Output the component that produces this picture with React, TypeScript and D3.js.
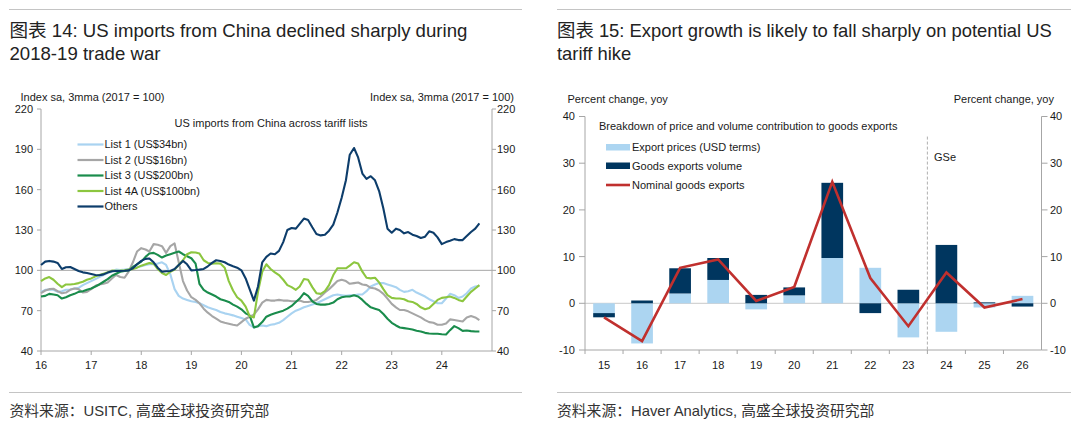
import React from 'react';
import * as d3 from 'd3';

const FONT = '"Liberation Sans", Arial, "Noto Sans CJK SC", sans-serif';

// ---------- Left chart: US imports from China across tariff lists (monthly, Jan 2016 onward) ----------
const firstMonth = new Date(2016, 0, 1);

const list1 = [
  84, 85.5, 85.8, 85.5, 84, 84.5, 85.5, 85.8, 86.5, 87, 89, 90.5, 92, 93.5, 95, 96.5, 98, 99, 100.5, 100.3,
  100.5, 101, 101.5, 102.3, 103, 104, 104.5, 104.5, 105, 106, 104, 97, 86, 81, 79, 78, 77, 76.5,
  75.5, 74, 72.5, 71.5, 70.5, 69, 68, 67.3, 66.5, 65.5, 64.5, 63.5, 59.5, 57.5, 58.5, 59, 58.5, 59.5, 60, 61,
  63, 65.5, 68, 70, 71, 72.5, 73.5, 74.5, 75.5, 77, 78.5, 80, 81.5, 82, 81.5, 81, 81.5, 81.5, 82, 82, 84.5,
  88, 89.5, 90.5, 90.5, 89.5, 88.5, 87.5, 85.5, 84, 84.5, 85.5, 83.5, 82, 80.5, 78.5, 77, 75.5, 75.5, 79,
  82.5, 81.5, 79.5, 80.5, 83, 86.5, 88, 88.5,
];

const list2 = [
  83, 85, 86, 86.3, 84.5, 83, 83.5, 85.5, 86.5, 86, 83.5, 84, 86, 88.5, 89.5, 90, 91, 94, 96.5, 95,
  94.5, 99, 106, 114, 116.5, 115.5, 114, 119.5, 119, 118, 113, 118, 120, 106, 92, 85, 80, 78, 75.5,
  71.5, 68.5, 66, 64, 62, 61, 60.3, 59.5, 59, 61.5, 64, 65.5, 67, 71, 76, 78, 77.5, 77.5, 78, 77.5, 77.5,
  77, 77, 77.5, 76.5, 76.5, 77, 78, 80.5, 83.5, 86, 89, 92, 93, 92, 90, 90.5, 91, 89.5, 89, 87, 86.5, 85,
  82.5, 79, 75, 72.5, 70.5, 70.5, 69.5, 68, 66.5, 65, 63, 61.5, 61, 59.5, 59.5, 60.5, 63.5, 63, 62.5, 62,
  65, 66, 65, 63,
];

const list3 = [
  80.5, 81, 82.5, 82, 81.5, 79, 80, 81.5, 82.5, 84, 84.5, 85.5, 86.5, 88, 89.5, 91.5, 93.5, 96, 97.5, 99,
  99.5, 100, 102.5, 104.5, 106.5, 110, 112.5, 113, 111.5, 109.5, 111, 112, 113, 114, 112, 110.5, 109, 105, 90,
  85.5, 83.5, 82, 80.5, 78.5, 77.5, 76.5, 74.5, 73, 71, 68, 66.5, 57.5, 58.5, 61.5, 65.5, 67, 68, 69, 70,
  71.5, 73.5, 76.5, 79, 83, 81, 77, 75, 74.5, 74.5, 75, 76, 78.5, 80, 80.5, 80.5, 81.5, 80.5, 78, 75, 72.5,
  71.5, 70.5, 67.5, 64, 61, 59, 57.5, 57, 56.5, 56, 55, 54.5, 53.5, 53, 52.8, 52.8, 52.5, 52.3, 55.5, 58.5,
  57, 55, 55.3, 54.8, 54.5, 54.5,
];

const list4a = [
  92, 94, 95, 93, 90, 87.5, 89.5, 89.5, 89.8, 90.5, 91.5, 93, 94, 95.5, 96.5, 97.5, 98.5, 99.8, 99.7, 99.8,
  100, 100.5, 101, 102, 103.5, 104.5, 105.5, 105, 101, 98, 96.5, 99, 100.5, 104, 107.5, 112, 113.5, 113.3, 112.5,
  107.5, 105.5, 105, 105.3, 105, 102, 92, 85, 80, 77.5, 73, 66, 65, 84, 99, 104.5, 101, 98.5, 96.5, 93,
  89, 87.5, 85.5, 88, 93.5, 93, 87.5, 83, 82.5, 84.5, 89, 96.5, 101.5, 101.5, 101.5, 103.5, 106, 105, 99, 94.5,
  94, 94.5, 91, 86, 81.5, 79.5, 79, 79, 78.5, 77, 76.5, 75, 72.5, 71, 72, 75, 78, 79.5, 80, 80.5, 79.5,
  78, 77, 80.5, 84, 86.5, 89,
];

const others = [
  104, 106.5, 107, 106.5, 105.5, 101, 102.3, 102.5, 101, 99.5, 98.5, 98, 97.3, 96.5, 96.3, 97, 98.3, 99.3, 99.5, 99.5,
  99.7, 100, 101.5, 104.5, 107, 108.5, 108.8, 106, 102, 99, 99.3, 99.5, 101, 104, 107, 104.5, 100, 100.2, 100.5,
  101, 103, 105.5, 107.5, 107, 106, 104.3, 103, 102, 100, 94, 86, 77.5, 88, 106, 110, 112.5, 112, 114.5, 121,
  130, 131.5, 131, 134.5, 138.5, 137.5, 132, 127, 126, 126.5, 129.5, 134, 143, 154, 167, 186, 191, 184, 172, 168,
  170, 167, 159, 146, 131, 128, 131, 130, 127.5, 128.5, 126.5, 125.5, 124, 125, 129, 128, 124.5, 119.5, 121, 122,
  123.2, 122.5, 122.5, 125.5, 128.5, 131, 135,
];

const leftSeriesNames = ['List 1 (US$34bn)', 'List 2 (US$16bn)', 'List 3 (US$200bn)', 'List 4A (US$100bn)', 'Others'];
const leftSeriesColors = ['#a9d3f1', '#a6a6a6', '#1a8c4c', '#8cc63f', '#0d3d6b'];
const leftYTicks = [40, 70, 100, 130, 160, 190, 220];
const leftXYears = [2016, 2017, 2018, 2019, 2020, 2021, 2022, 2023, 2024];
const leftXLabels = ['16', '17', '18', '19', '20', '21', '22', '23', '24'];

// ---------- Right chart: price and volume contribution to goods exports ----------
const rightCats = ['15', '16', '17', '18', '19', '20', '21', '22', '23', '24', '25', '26'];
const exportPrices = [-2.1, -8.6, 2.1, 5.0, -1.3, 1.7, 9.7, 7.6, -7.3, -6.1, -0.9, 1.6];
const exportVolume = [-0.9, 0.6, 5.4, 4.7, 1.8, 1.7, 16.1, -2.1, 2.9, 12.5, 0.2, -0.7];
const nominalExports = [-3.0, -8.1, 7.6, 9.4, 0.5, 3.5, 26.0, 5.4, -4.9, 6.6, -0.9, 0.9];
const rightYTicks = [-10, 0, 10, 20, 30, 40];
const forecastStartCat = '24';
const forecastLineTop = 35.7;

const AXIS = '#a6a6a6';
const TXT = '#1a1a1a';

function LeftChart() {
  const x = d3.scaleTime().domain([new Date(2016, 0, 1), new Date(2025, 0, 1)]).range([41, 492]);
  const y = d3.scaleLinear().domain([40, 220]).range([351, 109]);
  const dates = list1.map((_, i) => d3.timeMonth.offset(firstMonth, i));
  const series = [list1, list2, list3, list4a, others];
  const line = d3
    .line<number>()
    .x((_, i) => x(dates[i]))
    .y((d) => y(d))
    .curve(d3.curveLinear);
  const [x0, x1] = x.range();
  const [yb, yt] = y.range();
  return (
    <g>
      <text x={20.5} y={100.5} fontSize={11} fill={TXT}>Index sa, 3mma (2017 = 100)</text>
      <text x={514} y={100.5} fontSize={11} fill={TXT} textAnchor="end">Index sa, 3mma (2017 = 100)</text>
      {/* reference line at 100 */}
      <line x1={x0} x2={x1} y1={y(100)} y2={y(100)} stroke={AXIS} strokeWidth={1} />
      {/* axes */}
      <line x1={x0} x2={x0} y1={yt} y2={yb} stroke={AXIS} />
      <line x1={x1} x2={x1} y1={yt} y2={yb} stroke={AXIS} />
      <line x1={x0} x2={x1} y1={yb} y2={yb} stroke={AXIS} />
      {leftYTicks.map((t) => (
        <g key={t}>
          <line x1={x0 - 4} x2={x0} y1={y(t)} y2={y(t)} stroke={AXIS} />
          <line x1={x1} x2={x1 + 4} y1={y(t)} y2={y(t)} stroke={AXIS} />
          <text x={x0 - 8} y={y(t)} dy="0.36em" fontSize={11} fill={TXT} textAnchor="end">{t}</text>
          <text x={x1 + 5} y={y(t)} dy="0.36em" fontSize={11} fill={TXT}>{t}</text>
        </g>
      ))}
      {leftXYears.map((yr, i) => {
        const px = x(new Date(yr, 0, 1));
        return (
          <g key={yr}>
            <line x1={px} x2={px} y1={yb} y2={yb + 4} stroke={AXIS} />
            <text x={px} y={369} fontSize={11} fill={TXT} textAnchor="middle">{leftXLabels[i]}</text>
          </g>
        );
      })}
      {series.map((s, i) => (
        <path key={i} d={line(s) || ''} fill="none" stroke={leftSeriesColors[i]} strokeWidth={2.1} strokeLinejoin="round" />
      ))}
      <text x={271} y={126.5} fontSize={11} fill={TXT} textAnchor="middle">US imports from China across tariff lists</text>
      {leftSeriesNames.map((n, i) => {
        const ly = 144.5 + i * 15.5;
        return (
          <g key={n}>
            <line x1={77.5} x2={103.5} y1={ly} y2={ly} stroke={leftSeriesColors[i]} strokeWidth={2.2} />
            <text x={104.5} y={ly} dy="0.36em" fontSize={11} fill={TXT}>{n}</text>
          </g>
        );
      })}
    </g>
  );
}

function RightChart() {
  const x = d3.scaleBand<string>().domain(rightCats).range([585, 1041.5]).padding(0);
  const y = d3.scaleLinear().domain([-10, 40]).range([350, 116.5]);
  const bw = x.bandwidth();
  const barW = bw * 0.57;
  const rows = rightCats.map((c, i) => ({ cat: c, price: exportPrices[i], volume: exportVolume[i] }));
  const stacked = d3
    .stack<{ cat: string; price: number; volume: number }>()
    .keys(['price', 'volume'])
    .offset(d3.stackOffsetDiverging)(rows);
  const barColors = ['#acd5f1', '#00365f'];
  const line = d3
    .line<number>()
    .x((_, i) => (x(rightCats[i]) as number) + bw / 2)
    .y((d) => y(d));
  const [x0, x1] = x.range();
  const [yb, yt] = y.range();
  const fx = x(forecastStartCat) as number;
  return (
    <g>
      <text x={567.5} y={102.5} fontSize={11} fill={TXT}>Percent change, yoy</text>
      <text x={1054} y={102.5} fontSize={11} fill={TXT} textAnchor="end">Percent change, yoy</text>
      <line x1={x0} x2={x1} y1={y(0)} y2={y(0)} stroke="#c8c8c8" />
      <line x1={x0} x2={x0} y1={yt} y2={yb} stroke={AXIS} />
      <line x1={x1} x2={x1} y1={yt} y2={yb} stroke={AXIS} />
      <line x1={x0} x2={x1} y1={yb} y2={yb} stroke={AXIS} />
      {rightYTicks.map((t) => (
        <g key={t}>
          <line x1={x0 - 6} x2={x0} y1={y(t)} y2={y(t)} stroke={AXIS} />
          <line x1={x1} x2={x1 + 6} y1={y(t)} y2={y(t)} stroke={AXIS} />
          <text x={x0 - 10} y={y(t)} dy="0.36em" fontSize={11} fill={TXT} textAnchor="end">{t}</text>
          <text x={x1 + 8.5} y={y(t)} dy="0.36em" fontSize={11} fill={TXT}>{t}</text>
        </g>
      ))}
      {rightCats.map((c) => {
        const bx = x(c) as number;
        return (
          <g key={c}>
            <line x1={bx} x2={bx} y1={yb} y2={yb + 4} stroke={AXIS} />
            <text x={bx + bw / 2} y={368.5} fontSize={11} fill={TXT} textAnchor="middle">{c}</text>
          </g>
        );
      })}
      {stacked.map((layer, li) =>
        layer.map((d, i) => {
          const top = y(Math.max(d[0], d[1]));
          const bot = y(Math.min(d[0], d[1]));
          return (
            <rect
              key={`${li}-${i}`}
              x={(x(rightCats[i]) as number) + (bw - barW) / 2}
              y={top}
              width={barW}
              height={Math.max(0, bot - top)}
              fill={barColors[li]}
            />
          );
        })
      )}
      <line x1={fx} x2={fx} y1={y(forecastLineTop)} y2={yb} stroke="#9a9a9a" strokeDasharray="3,2" strokeWidth={0.8} />
      <text x={934} y={160.5} fontSize={11} fill={TXT}>GSe</text>
      <path d={line(nominalExports) || ''} fill="none" stroke="#c0302e" strokeWidth={2.6} strokeLinejoin="miter" />
      <text x={599} y={129.5} fontSize={11} fill={TXT}>Breakdown of price and volume contribution to goods exports</text>
      <rect x={606} y={144} width={24} height={6.5} fill={barColors[0]} />
      <text x={632} y={147.2} dy="0.36em" fontSize={11} fill={TXT}>Export prices (USD terms)</text>
      <rect x={606} y={162.5} width={24} height={6.5} fill={barColors[1]} />
      <text x={632} y={165.8} dy="0.36em" fontSize={11} fill={TXT}>Goods exports volume</text>
      <line x1={606} x2={630} y1={185} y2={185} stroke="#c0302e" strokeWidth={2.6} />
      <text x={632} y={185} dy="0.36em" fontSize={11} fill={TXT}>Nominal goods exports</text>
    </g>
  );
}

export default function App() {
  return (
    <svg
      width={1080}
      height={425}
      viewBox="0 0 1080 425"
      style={{ position: 'absolute', left: 0, top: 0, background: '#ffffff', fontFamily: FONT }}
    >
      <rect x={0} y={0} width={1080} height={425} fill="#ffffff" />
      {/* top rules */}
      <line x1={9} x2={522} y1={9.5} y2={9.5} stroke="#c4c4c4" />
      <line x1={557} x2={1071} y1={9.5} y2={9.5} stroke="#c4c4c4" />
      {/* titles */}
      <text x={9.5} y={37} fontSize={18.6} fill="#222">图表 14: US imports from China declined sharply during</text>
      <text x={9.5} y={60} fontSize={18.6} fill="#222">2018-19 trade war</text>
      <text x={557} y={37} fontSize={18.4} fill="#222">图表 15: Export growth is likely to fall sharply on potential US</text>
      <text x={557} y={60} fontSize={18.4} fill="#222">tariff hike</text>
      <LeftChart />
      <RightChart />
      {/* footer */}
      <line x1={9} x2={522} y1={392.5} y2={392.5} stroke="#c4c4c4" />
      <line x1={557} x2={1071} y1={392.5} y2={392.5} stroke="#c4c4c4" />
      <text x={9.5} y={416} fontSize={14.8} fill="#333">资料来源：USITC, 高盛全球投资研究部</text>
      <text x={557} y={416} fontSize={14.8} fill="#333">资料来源：Haver Analytics, 高盛全球投资研究部</text>
    </svg>
  );
}
